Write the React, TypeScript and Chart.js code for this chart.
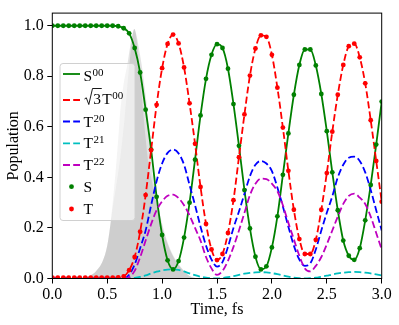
import React, { useEffect, useRef } from 'react';
import { Chart, registerables } from 'chart.js';

Chart.register(...registerables);

const TIME = [0, 0.05, 0.1, 0.15, 0.2, 0.25, 0.3, 0.35, 0.4, 0.45, 0.5, 0.55, 0.6, 0.65, 0.7, 0.75, 0.8, 0.85, 0.9, 0.95, 1, 1.05, 1.1, 1.15, 1.2, 1.25, 1.3, 1.35, 1.4, 1.45, 1.5, 1.55, 1.6, 1.65, 1.7, 1.75, 1.8, 1.85, 1.9, 1.95, 2, 2.05, 2.1, 2.15, 2.2, 2.25, 2.3, 2.35, 2.4, 2.45, 2.5, 2.55, 2.6, 2.65, 2.7, 2.75, 2.8, 2.85, 2.9, 2.95, 3];

const S00 = [1, 1, 1, 1, 1, 1, 1, 1, 1, 1, 1, 1, 0.998, 0.99, 0.97, 0.912, 0.815, 0.668, 0.51, 0.323, 0.172, 0.072, 0.036, 0.069, 0.162, 0.3, 0.47, 0.645, 0.79, 0.885, 0.927, 0.912, 0.83, 0.69, 0.525, 0.35, 0.198, 0.086, 0.036, 0.048, 0.123, 0.246, 0.41, 0.574, 0.727, 0.845, 0.906, 0.906, 0.843, 0.73, 0.583, 0.42, 0.27, 0.15, 0.09, 0.074, 0.12, 0.23, 0.37, 0.53, 0.7];

const T00_SQRT3 = [0.003, 0.003, 0.003, 0.003, 0.003, 0.003, 0.003, 0.003, 0.003, 0.003, 0.003, 0.003, 0.004, 0.008, 0.033, 0.085, 0.185, 0.33, 0.508, 0.687, 0.832, 0.928, 0.965, 0.93, 0.835, 0.693, 0.533, 0.362, 0.216, 0.115, 0.073, 0.097, 0.18, 0.31, 0.48, 0.649, 0.803, 0.91, 0.962, 0.956, 0.885, 0.755, 0.597, 0.426, 0.272, 0.156, 0.097, 0.097, 0.153, 0.272, 0.417, 0.581, 0.727, 0.845, 0.919, 0.929, 0.875, 0.772, 0.626, 0.465, 0.304];

const T20 = [0, 0, 0, 0, 0, 0, 0, 0, 0, 0, 0, 0, 0, 0, 0.015, 0.055, 0.12, 0.19, 0.29, 0.385, 0.455, 0.497, 0.51, 0.495, 0.45, 0.37, 0.29, 0.205, 0.13, 0.075, 0.047, 0.065, 0.125, 0.2, 0.265, 0.335, 0.405, 0.45, 0.465, 0.455, 0.425, 0.36, 0.285, 0.205, 0.13, 0.075, 0.05, 0.06, 0.115, 0.19, 0.26, 0.325, 0.4, 0.45, 0.478, 0.482, 0.465, 0.42, 0.35, 0.27, 0.19];

const T21 = [0, 0, 0, 0, 0, 0, 0, 0, 0, 0, 0, 0, 0, 0, 0, 0.002, 0.006, 0.012, 0.02, 0.027, 0.032, 0.035, 0.036, 0.034, 0.028, 0.02, 0.013, 0.007, 0.003, 0.001, 0, 0.002, 0.005, 0.009, 0.014, 0.019, 0.022, 0.024, 0.025, 0.024, 0.021, 0.017, 0.012, 0.007, 0.003, 0.001, 0, 0.001, 0.003, 0.007, 0.011, 0.016, 0.02, 0.023, 0.025, 0.026, 0.025, 0.023, 0.02, 0.016, 0.012];

const T22 = [0, 0, 0, 0, 0, 0, 0, 0, 0, 0, 0, 0, 0, 0, 0.005, 0.03, 0.084, 0.15, 0.215, 0.27, 0.305, 0.327, 0.332, 0.318, 0.29, 0.25, 0.2, 0.15, 0.085, 0.04, 0.014, 0.03, 0.07, 0.125, 0.19, 0.26, 0.33, 0.375, 0.395, 0.393, 0.375, 0.345, 0.29, 0.22, 0.155, 0.09, 0.04, 0.028, 0.05, 0.085, 0.135, 0.19, 0.245, 0.295, 0.327, 0.336, 0.32, 0.295, 0.245, 0.18, 0.115];

// laser pulse shading (two overlapping fills)
const PULSE_A_T = [0.28, 0.34, 0.4, 0.46, 0.5, 0.525, 0.55, 0.58, 0.6, 0.617, 0.65, 0.683, 0.71, 0.73, 0.747, 0.765, 0.785, 0.814, 0.84, 0.869, 0.9, 0.95, 1.01, 1.07, 1.13, 1.2, 1.25, 1.32];
const PULSE_A = [0, 0.01, 0.03, 0.07, 0.13, 0.2, 0.3, 0.44, 0.55, 0.65, 0.77, 0.845, 0.92, 0.965, 0.987, 0.965, 0.92, 0.845, 0.76, 0.65, 0.46, 0.32, 0.2, 0.12, 0.07, 0.03, 0.01, 0];
const PULSE_B_T = [0.28, 0.34, 0.4, 0.46, 0.5, 0.525, 0.55, 0.58, 0.62, 0.66, 0.7, 0.725, 0.747, 0.77, 0.8, 0.84, 0.88, 0.9, 0.95, 1.01, 1.07, 1.13, 1.2, 1.25, 1.32];
const PULSE_B = [0, 0.01, 0.03, 0.07, 0.13, 0.2, 0.28, 0.36, 0.48, 0.64, 0.84, 0.94, 0.987, 0.94, 0.8, 0.6, 0.44, 0.4, 0.3, 0.19, 0.115, 0.065, 0.028, 0.01, 0];

const X_TICKS = [0, 0.5, 1, 1.5, 2, 2.5, 3];
const Y_TICKS = [0, 0.2, 0.4, 0.6, 0.8, 1.0];

const FONT = '"Liberation Serif", "Times New Roman", serif';
const GREEN = '#008000';
const RED = '#ff0000';
const BLUE = '#0000ff';
const CYAN = '#00bfbf';
const MAGENTA = '#bf00bf';
const DASH = [7, 3.2];

const pts = (xs: number[], ys: number[]) => xs.map((x, i) => ({ x, y: ys[i] }));

const legendPlugin = {
  id: 'frameAndLegend',
  afterDatasetsDraw(chart: any) {
    const { ctx, chartArea: a } = chart;
    ctx.save();
    ctx.strokeStyle = '#000';
    ctx.lineWidth = 1;
    ctx.strokeRect(a.left, a.top, a.right - a.left, a.bottom - a.top);

    // legend box
    const bx = 60, by = 63.5, bw = 75, bh = 157, r = 3;
    ctx.beginPath();
    ctx.moveTo(bx + r, by);
    ctx.lineTo(bx + bw - r, by);
    ctx.quadraticCurveTo(bx + bw, by, bx + bw, by + r);
    ctx.lineTo(bx + bw, by + bh - r);
    ctx.quadraticCurveTo(bx + bw, by + bh, bx + bw - r, by + bh);
    ctx.lineTo(bx + r, by + bh);
    ctx.quadraticCurveTo(bx, by + bh, bx, by + bh - r);
    ctx.lineTo(bx, by + r);
    ctx.quadraticCurveTo(bx, by, bx + r, by);
    ctx.closePath();
    ctx.fillStyle = 'rgba(255,255,255,0.6)';
    ctx.fill();
    ctx.strokeStyle = '#d0d0d0';
    ctx.lineWidth = 1;
    ctx.stroke();

    const hx0 = 63, hx1 = 80, tx = 83.5;
    const main = `15.5px ${FONT}`;
    const sup = `11px ${FONT}`;
    ctx.textBaseline = 'alphabetic';
    ctx.textAlign = 'left';
    ctx.fillStyle = '#000';

    const handle = (y: number, color: string, dash: number[]) => {
      ctx.save();
      ctx.strokeStyle = color;
      ctx.lineWidth = 1.8;
      ctx.setLineDash(dash);
      ctx.beginPath();
      ctx.moveTo(hx0, y);
      ctx.lineTo(hx1, y);
      ctx.stroke();
      ctx.restore();
    };
    const dot = (y: number, color: string) => {
      ctx.save();
      ctx.fillStyle = color;
      ctx.beginPath();
      ctx.arc((hx0 + hx1) / 2, y, 2.4, 0, Math.PI * 2);
      ctx.fill();
      ctx.restore();
    };
    const label = (x: number, base: number, text: string, s: string) => {
      ctx.font = main;
      ctx.fillText(text, x, base);
      const w = ctx.measureText(text).width;
      if (s) {
        ctx.font = sup;
        ctx.fillText(s, x + w + 0.5, base - 5);
      }
    };

    handle(74, GREEN, []);
    label(tx, 80.5, 'S', '00');

    handle(100, RED, DASH);
    // sqrt(3)
    {
      const base = 104;
      const x0 = tx + 1;
      ctx.font = main;
      const w3 = ctx.measureText('3').width;
      ctx.save();
      ctx.strokeStyle = '#000';
      ctx.lineWidth = 0.9;
      ctx.beginPath();
      ctx.moveTo(x0, base - 5);
      ctx.lineTo(x0 + 1.8, base - 6.2);
      ctx.lineTo(x0 + 4.3, base + 0.5);
      ctx.lineTo(x0 + 8, base - 15.5);
      ctx.lineTo(x0 + 8 + w3 + 1.5, base - 15.5);
      ctx.stroke();
      ctx.restore();
      ctx.fillText('3', x0 + 8.8, base);
      label(x0 + 8.8 + w3 + 1.2, base, 'T', '00');
    }

    handle(121.5, BLUE, DASH);
    label(tx, 126.5, 'T', '20');
    handle(143.3, CYAN, DASH);
    label(tx, 148.3, 'T', '21');
    handle(165, MAGENTA, DASH);
    label(tx, 170, 'T', '22');
    dot(186.7, GREEN);
    label(tx, 192, 'S', '');
    dot(209, RED);
    label(tx, 214, 'T', '');

    ctx.restore();
  },
};

export default function App() {
  const ref = useRef<HTMLCanvasElement | null>(null);

  useEffect(() => {
    if (!ref.current) return;
    const lineDs = (data: number[], color: string, dash: number[]) => ({
      data: pts(TIME, data),
      borderColor: color,
      backgroundColor: color,
      borderWidth: 1.8,
      borderDash: dash,
      pointRadius: 0,
      fill: false,
      cubicInterpolationMode: 'monotone',
    });
    const markerDs = (data: number[], color: string) => ({
      data: pts(TIME, data),
      showLine: false,
      pointRadius: 2.4,
      pointBorderWidth: 0,
      pointBackgroundColor: color,
      borderColor: color,
      backgroundColor: color,
    });
    const fillDs = (xs: number[], ys: number[]) => ({
      data: pts(xs, ys),
      borderWidth: 0,
      borderColor: 'rgba(0,0,0,0)',
      backgroundColor: 'rgba(150,150,150,0.27)',
      pointRadius: 0,
      fill: 'origin',
      cubicInterpolationMode: 'monotone',
    });

    const tickFont = { family: FONT, size: 16 };
    const chart = new Chart(ref.current, {
      type: 'line',
      data: {
        datasets: [
          markerDs(T00_SQRT3, RED),
          markerDs(S00, GREEN),
          lineDs(T22, MAGENTA, DASH),
          lineDs(T21, CYAN, DASH),
          lineDs(T20, BLUE, DASH),
          lineDs(T00_SQRT3, RED, DASH),
          lineDs(S00, GREEN, []),
          fillDs(PULSE_B_T, PULSE_B),
          fillDs(PULSE_A_T, PULSE_A),
        ] as any,
      },
      options: {
        animation: false,
        responsive: false,
        devicePixelRatio: 1,
        layout: { padding: { top: 6.5, right: 17.3, bottom: 0, left: 0 } },
        plugins: { legend: { display: false }, tooltip: { enabled: false }, title: { display: false } },
        scales: {
          x: {
            type: 'linear',
            min: 0,
            max: 3,
            afterBuildTicks: (s: any) => { s.ticks = X_TICKS.map((v) => ({ value: v })); },
            afterFit: (s: any) => { s.height = 46.5; },
            ticks: { font: tickFont, color: '#000', padding: 2, maxRotation: 0, autoSkip: false, callback: (v: any) => Number(v).toFixed(1) },
            grid: { display: true, drawOnChartArea: false, drawTicks: true, tickLength: 5, color: '#000', lineWidth: 1 },
            border: { display: false },
            title: { display: true, text: 'Time, fs', font: tickFont, color: '#000', padding: { top: 0, bottom: 6 } },
          },
          y: {
            type: 'linear',
            min: 0,
            max: 1.05,
            afterBuildTicks: (s: any) => { s.ticks = Y_TICKS.map((v) => ({ value: v })); },
            afterFit: (s: any) => { s.width = 52.3; },
            ticks: { font: tickFont, color: '#000', padding: 3.5, autoSkip: false, callback: (v: any) => Number(v).toFixed(1) },
            grid: { display: true, drawOnChartArea: false, drawTicks: true, tickLength: 5, color: '#000', lineWidth: 1 },
            border: { display: false },
            title: { display: true, text: 'Population', font: tickFont, color: '#000', padding: { top: 4, bottom: 0 } },
          },
        },
      } as any,
      plugins: [legendPlugin],
    });
    return () => chart.destroy();
  }, []);

  return (
    <canvas
      ref={ref}
      width={399}
      height={325}
      style={{ position: 'absolute', left: 0, top: 0, width: 399, height: 325 }}
    />
  );
}
